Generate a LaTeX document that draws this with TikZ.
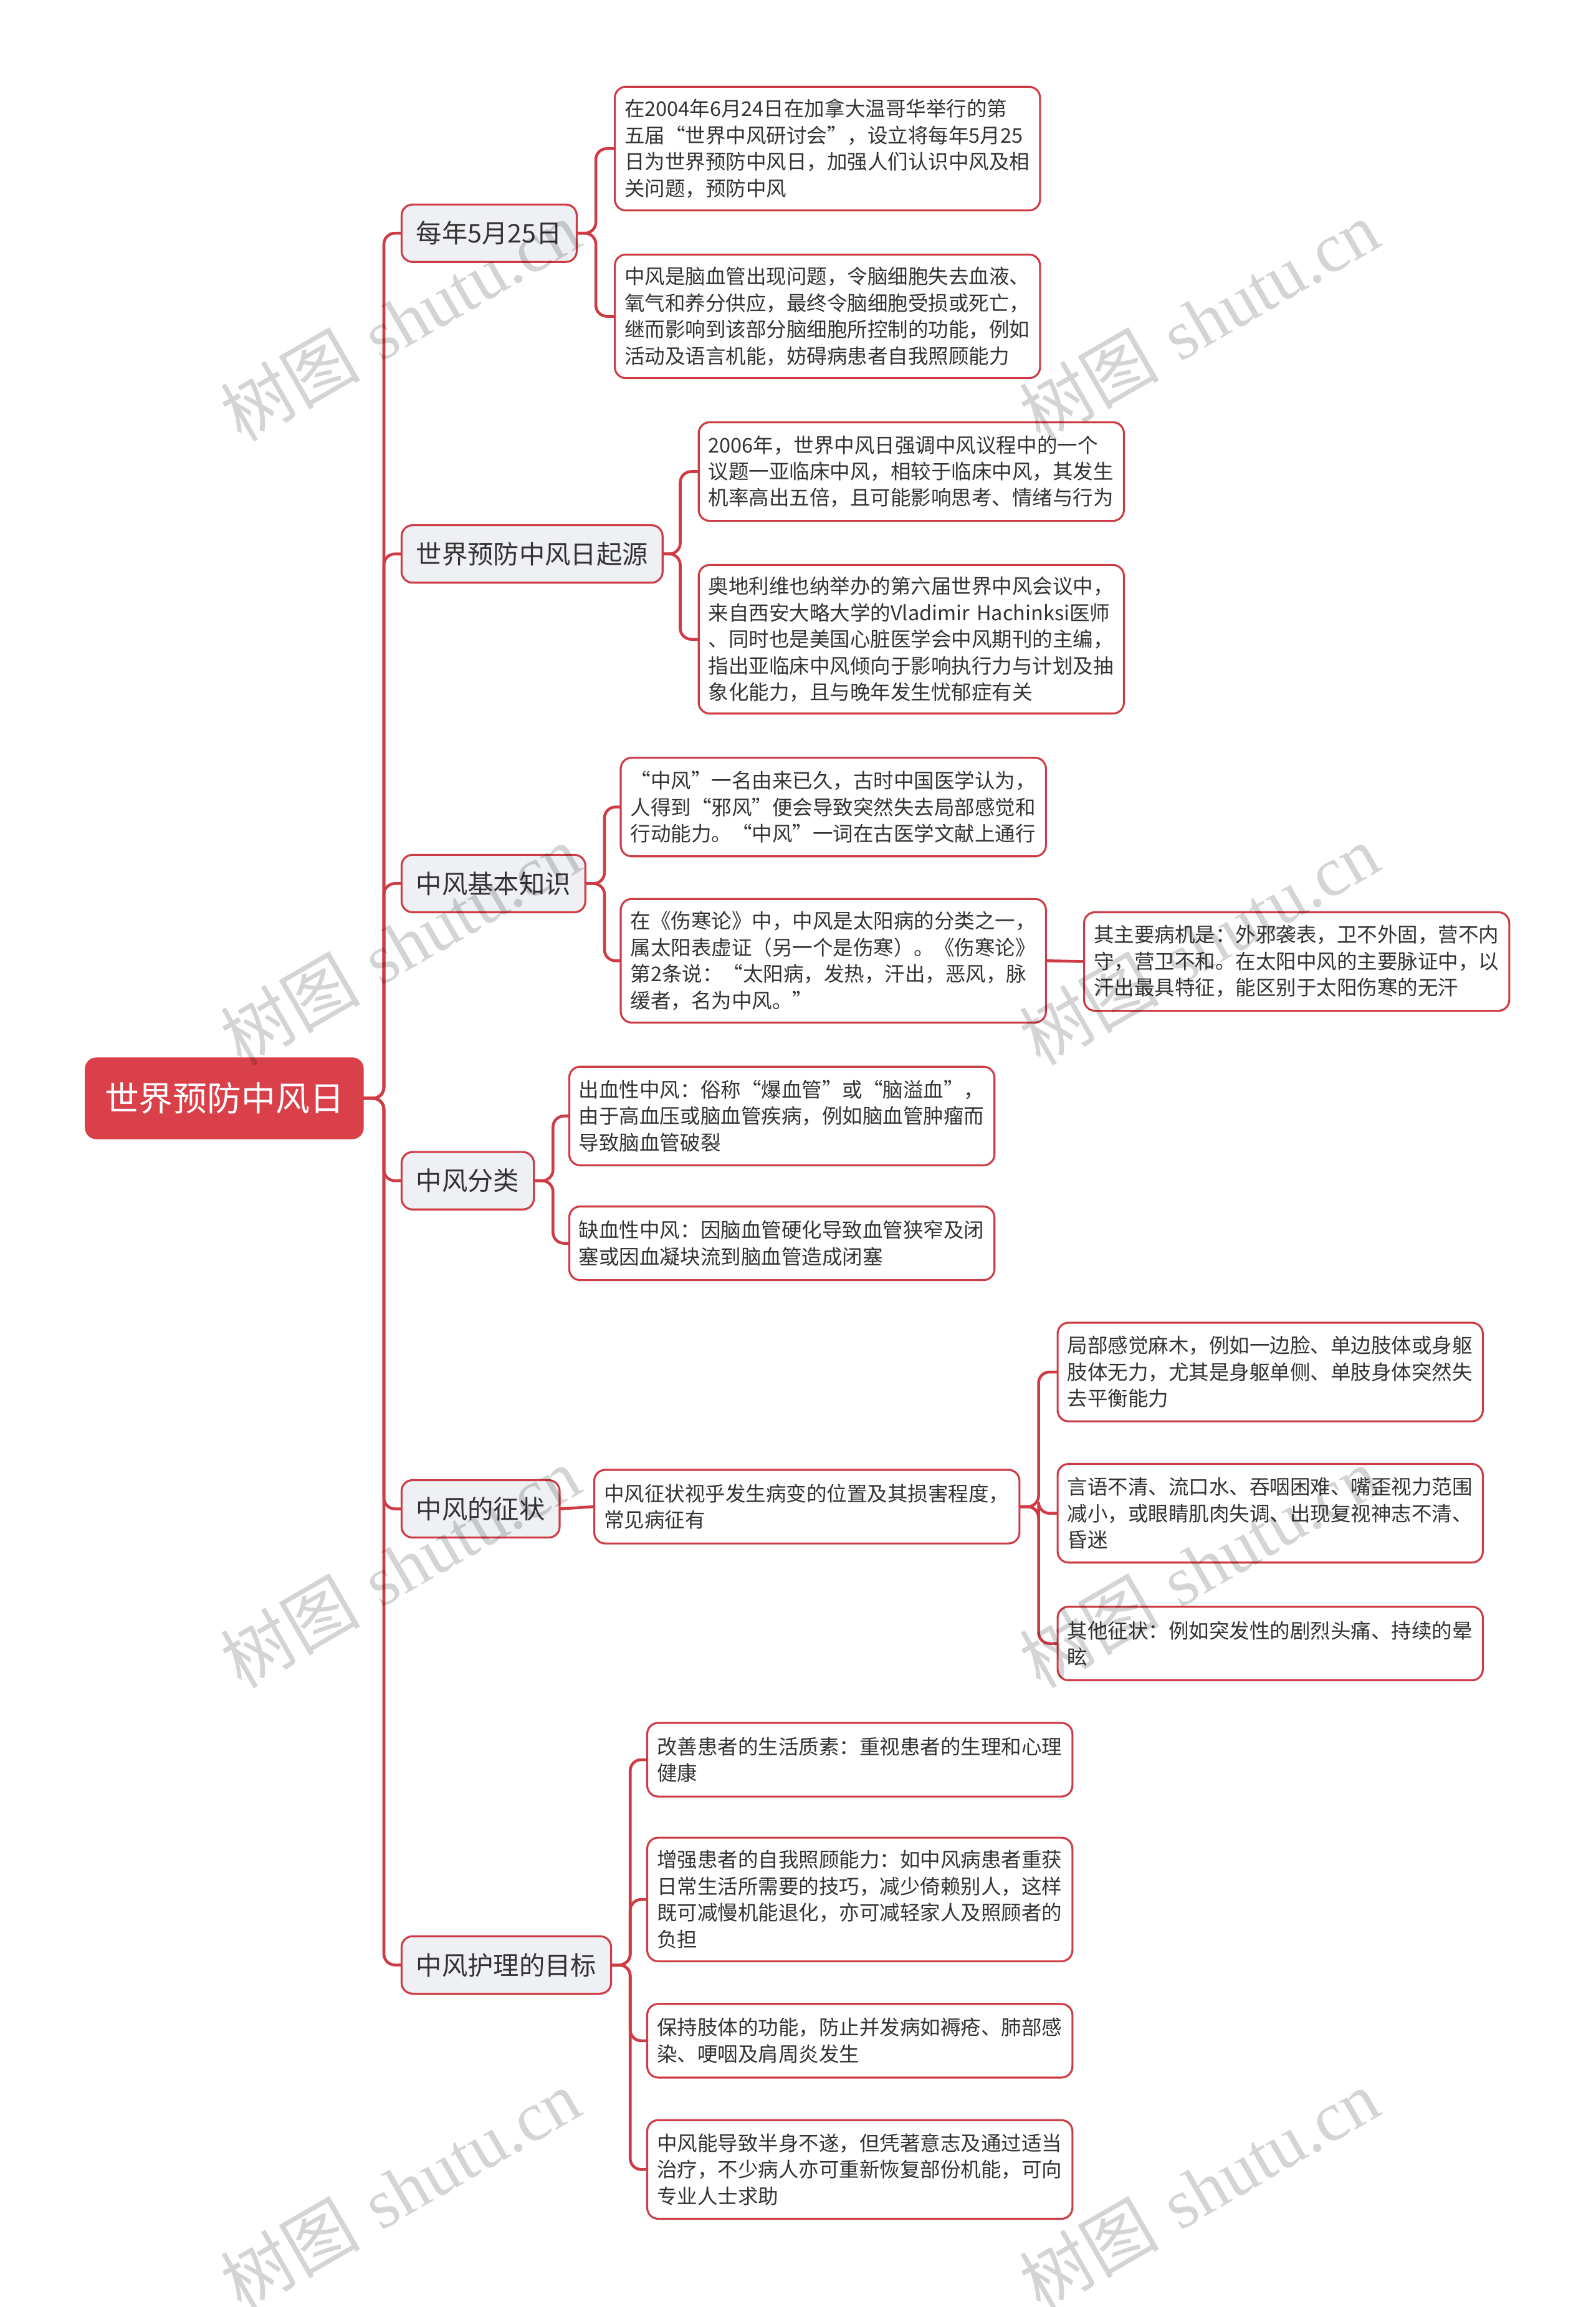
\documentclass[tikz,border=0pt]{standalone}
\usepackage{fontspec}
\newfontfamily\cjk{Noto Sans CJK SC}
\newfontfamily\wmserif{Liberation Serif}
\definecolor{lc}{HTML}{CF3B44}
\definecolor{rootred}{HTML}{DA4049}
\definecolor{topicbg}{HTML}{EEF0F3}
\definecolor{txt}{HTML}{333333}
\tikzset{
  conn/.style={draw=lc, line width=1.3pt, rounded corners=5pt},
  rootbox/.style={fill=rootred, draw=rootred, rounded corners=5pt, text=white,
    font=\cjk\fontsize{15.6pt}{18pt}\selectfont, minimum width=126.9pt,
    minimum height=36.9pt, inner sep=0pt, outer sep=0pt, anchor=north west},
  topic/.style={fill=topicbg, draw=lc, line width=0.9pt, rounded corners=5pt, text=txt,
    font=\cjk\fontsize{11.75pt}{14pt}\selectfont, minimum height=26.2pt,
    inner xsep=6.7pt, inner ysep=0pt, outer sep=0pt, anchor=north west},
  leaf/.style={fill=white, draw=lc, line width=0.9pt, rounded corners=5pt, text=txt,
    font=\cjk\fontsize{9.25pt}{12.09pt}\selectfont, text width=185.3pt,
    inner xsep=4.4pt, inner ysep=0pt, outer sep=0pt, align=left, anchor=north west},
  hh2/.style={minimum height=33.6pt},
  hh3/.style={minimum height=45pt},
  hh4/.style={minimum height=56.4pt},
  hh5/.style={minimum height=67.8pt},
  wm/.style={text=black, opacity=0.17, rotate=30, font=\fontsize{32pt}{36pt}\selectfont, inner sep=0pt}
}
\begin{document}
\begin{tikzpicture}[x=0.6715pt, y=-0.6715pt]
\useasboundingbox[fill=white] (0,0) rectangle (1085,1568);

% root
\node[rootbox] (root) at (58,719) {世界预防中风日};

% topics
\node[topic] (ta) at (273,139) {每年5月25日};
\node[topic] (tb) at (273,357) {世界预防中风日起源};
\node[topic] (tc) at (273,581) {中风基本知识};
\node[topic] (td) at (273,783) {中风分类};
\node[topic] (te) at (273,1006) {中风的征状};
\node[topic] (tf) at (273,1316) {中风护理的目标};

% leaves
\node[leaf,hh4] (a1) at (418,59) {在2004年6月24日在加拿大温哥华举行的第\\五届“世界中风研讨会”，设立将每年5月25\\日为世界预防中风日，加强人们认识中风及相\\关问题，预防中风};
\node[leaf,hh4] (a2) at (418,173) {中风是脑血管出现问题，令脑细胞失去血液、\\氧气和养分供应，最终令脑细胞受损或死亡，\\继而影响到该部分脑细胞所控制的功能，例如\\活动及语言机能，妨碍病患者自我照顾能力};

\node[leaf,hh3] (b1) at (475,287) {2006年，世界中风日强调中风议程中的一个\\议题一亚临床中风，相较于临床中风，其发生\\机率高出五倍，且可能影响思考、情绪与行为};
\node[leaf,hh5] (b2) at (475,384) {奥地利维也纳举办的第六届世界中风会议中，\\来自西安大略大学的Vladimir Hachinksi医师\\、同时也是美国心脏医学会中风期刊的主编，\\指出亚临床中风倾向于影响执行力与计划及抽\\象化能力，且与晚年发生忧郁症有关};

\node[leaf,hh3] (c1) at (422,515) {“中风”一名由来已久，古时中国医学认为，\\人得到“邪风”便会导致突然失去局部感觉和\\行动能力。“中风”一词在古医学文献上通行};
\node[leaf,hh4] (c2) at (422,611) {在《伤寒论》中，中风是太阳病的分类之一，\\属太阳表虚证（另一个是伤寒）。《伤寒论》\\第2条说：“太阳病，发热，汗出，恶风，脉\\缓者，名为中风。”};
\node[leaf,hh3] (c3) at (737,620) {其主要病机是：外邪袭表，卫不外固，营不内\\守，营卫不和。在太阳中风的主要脉证中，以\\汗出最具特征，能区别于太阳伤寒的无汗};

\node[leaf,hh3] (d1) at (387,725) {出血性中风：俗称“爆血管”或“脑溢血”，\\由于高血压或脑血管疾病，例如脑血管肿瘤而\\导致脑血管破裂};
\node[leaf,hh2] (d2) at (387,820) {缺血性中风：因脑血管硬化导致血管狭窄及闭\\塞或因血凝块流到脑血管造成闭塞};

\node[leaf,hh2] (e1) at (404,999) {中风征状视乎发生病变的位置及其损害程度，\\常见病征有};
\node[leaf,hh3] (e2) at (719,899) {局部感觉麻木，例如一边脸、单边肢体或身躯\\肢体无力，尤其是身躯单侧、单肢身体突然失\\去平衡能力};
\node[leaf,hh3] (e3) at (719,995) {言语不清、流口水、吞咽困难、嘴歪视力范围\\减小，或眼睛肌肉失调、出现复视神志不清、\\昏迷};
\node[leaf,hh2] (e4) at (719,1092) {其他征状：例如突发性的剧烈头痛、持续的晕\\眩};

\node[leaf,hh2] (f1) at (440,1171) {改善患者的生活质素：重视患者的生理和心理\\健康};
\node[leaf,hh4] (f2) at (440,1249) {增强患者的自我照顾能力：如中风病患者重获\\日常生活所需要的技巧，减少倚赖别人，这样\\既可减慢机能退化，亦可减轻家人及照顾者的\\负担};
\node[leaf,hh2] (f3) at (440,1362) {保持肢体的功能，防止并发病如褥疮、肺部感\\染、哽咽及肩周炎发生};
\node[leaf,hh3] (f4) at (440,1441) {中风能导致半身不遂，但凭著意志及通过适当\\治疗，不少病人亦可重新恢复部份机能，可向\\专业人士求助};

% connectors
\foreach \t in {ta,tb,tc,td,te,tf}
  \draw[conn] (root.east) -- ++(14,0) |- (\t.west);
\foreach \c in {a1,a2} \draw[conn] (ta.east) -- ++(13,0) |- (\c.west);
\foreach \c in {b1,b2} \draw[conn] (tb.east) -- ++(12,0) |- (\c.west);
\foreach \c in {c1,c2} \draw[conn] (tc.east) -- ++(13,0) |- (\c.west);
\draw[conn] (c2.east) -- (c3.west);
\foreach \c in {d1,d2} \draw[conn] (td.east) -- ++(13,0) |- (\c.west);
\draw[conn] (te.east) -- (e1.west);
\foreach \c in {e2,e3,e4} \draw[conn] (e1.east) -- ++(13,0) |- (\c.west);
\foreach \c in {f1,f2,f3,f4} \draw[conn] (tf.east) -- ++(13,0) |- (\c.west);

% watermarks
\foreach \wx in {272,815}
  \foreach \wy in {218,642,1065,1488}
    \node[wm] at (\wx,\wy) {{\cjk 树图} {\wmserif shutu.cn}};
\end{tikzpicture}
\end{document}
